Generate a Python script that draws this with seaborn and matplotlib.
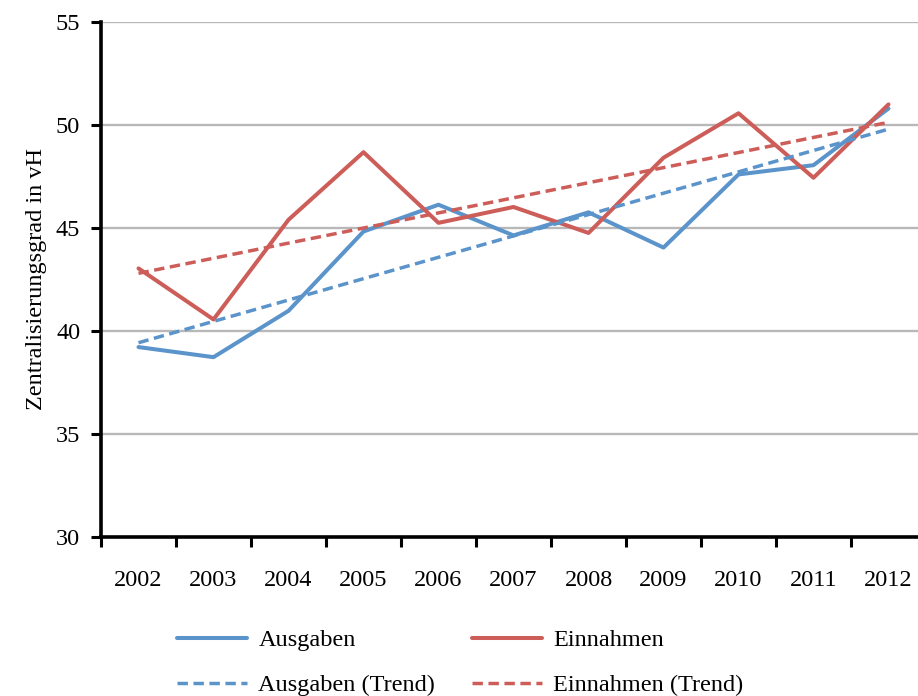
import numpy as np
import pandas as pd
import seaborn as sns
import matplotlib.pyplot as plt

# data
years = [2002, 2003, 2004, 2005, 2006, 2007, 2008, 2009, 2010, 2011, 2012]
ausgaben = [39.22, 38.73, 40.98, 44.83, 46.13, 44.64, 45.76, 44.05, 47.60, 48.05, 50.80]
einnahmen = [43.04, 40.56, 45.40, 48.68, 45.25, 46.02, 44.76, 48.41, 50.57, 47.44, 51.00]

# trend lines (start and end value)
trend_years = [2002, 2012]
ausgaben_trend = [39.43, 49.80]
einnahmen_trend = [42.80, 50.13]

blue = '#5B94CB'
red = '#CD5D58'

sns.set_style('white')
plt.rcParams['font.family'] = ['Liberation Serif', 'DejaVu Serif']
plt.rcParams['text.color'] = 'black'
plt.rcParams['xtick.color'] = 'black'
plt.rcParams['ytick.color'] = 'black'
plt.rcParams['axes.labelcolor'] = 'black'

fs = 17.5

fig = plt.figure(figsize=(9.18, 6.96), dpi=100)
ax = fig.add_axes([101 / 918, 1 - 537 / 696, 825 / 918, 515 / 696])

df = pd.DataFrame({'year': years, 'Ausgaben': ausgaben, 'Einnahmen': einnahmen})
df_trend = pd.DataFrame({'year': trend_years, 'Ausgaben': ausgaben_trend, 'Einnahmen': einnahmen_trend})

dash = (0, (3.0, 1.6))
sns.lineplot(data=df, x='year', y='Ausgaben', color=blue, lw=2.9, ax=ax, label='Ausgaben', zorder=3)
sns.lineplot(data=df, x='year', y='Einnahmen', color=red, lw=2.9, ax=ax, label='Einnahmen', zorder=3)
sns.lineplot(data=df_trend, x='year', y='Ausgaben', color=blue, lw=2.5, ax=ax,
             label='Ausgaben (Trend)', zorder=4, linestyle=dash)
sns.lineplot(data=df_trend, x='year', y='Einnahmen', color=red, lw=2.5, ax=ax,
             label='Einnahmen (Trend)', zorder=4, linestyle=dash)

ax.set_xlim(2001.5, 2012.5)
ax.set_ylim(30, 55)
ax.set_yticks([30, 35, 40, 45, 50, 55])
ax.yaxis.grid(True, color='#b8b8b8', lw=1.7)
ax.set_axisbelow(True)

# category boundaries get the tick marks, the year labels sit in between
ax.set_xticks(np.arange(2001.5, 2012.6, 1))
ax.set_xticklabels([])
ax.set_xticks(years, minor=True)
ax.set_xticklabels([str(y) for y in years], minor=True)
ax.tick_params(axis='x', which='major', bottom=True, direction='out', length=7, width=2.2, color='black')
ax.tick_params(axis='x', which='minor', bottom=True, length=0, pad=24, labelsize=fs)
ax.tick_params(axis='y', left=True, direction='out', length=7, width=2.2, color='black', labelsize=fs, pad=8)

for side in ['top', 'right']:
    ax.spines[side].set_visible(False)
for side in ['left', 'bottom']:
    ax.spines[side].set_color('black')
    ax.spines[side].set_linewidth(2.6)

ax.set_xlabel('')
ax.set_ylabel('Zentralisierungsgrad in vH', fontsize=fs, labelpad=6)

handles, labels = ax.get_legend_handles_labels()
ax.get_legend().remove()
order = [0, 2, 1, 3]
fig.legend([handles[i] for i in order], [labels[i] for i in order],
           ncol=2, loc='upper left', bbox_to_anchor=(177 / 918, 0.096),
           frameon=False, fontsize=fs, handlelength=2.9, handletextpad=0.45,
           columnspacing=1.5, labelspacing=0.95, borderpad=0, borderaxespad=0)

fig.savefig('out.png', dpi=100)
